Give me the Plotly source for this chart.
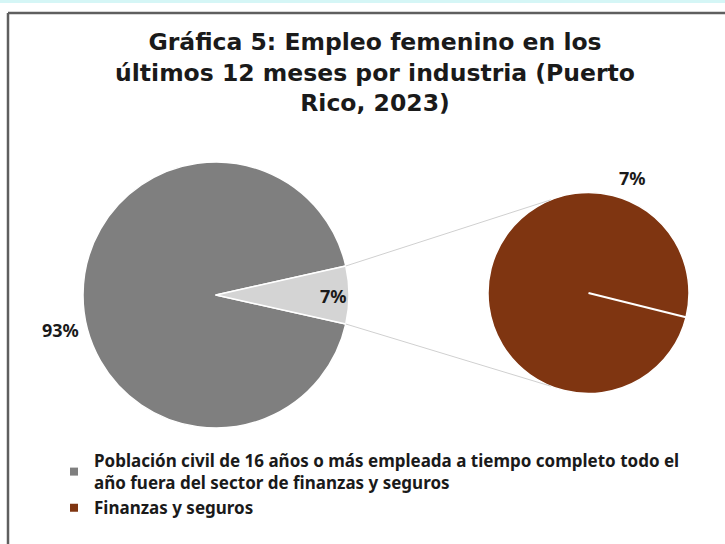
import math
import plotly.graph_objects as go

# ---- data ----
main_labels = ["Población civil de 16 años o más empleada a tiempo completo todo el año fuera del sector de finanzas y seguros",
               "Finanzas y seguros"]
main_values = [93, 7]
sub_labels = ["Finanzas y seguros"]
sub_values = [7]
legend_labels = ["Población civil de 16 años o más empleada a tiempo completo todo el<br>año fuera del sector de finanzas y seguros",
                 "Finanzas y seguros"]

W, H = 725, 544
GRAY, LIGHT, BROWN = "#7f7f7f", "#d4d4d4", "#7f3511"
FONT_LBL = "Noto Sans"

# geometry (pixels)
L_CX, L_CY, L_R = 216, 295, 133
R_CX, R_CY, R_R = 588.5, 293, 100.5

def px(x):
    return x / W
def py(y):
    return 1 - y / H

half = 360 * main_values[1] / sum(main_values) / 2  # half-angle of small slice

fig = go.Figure()
fig.add_trace(go.Pie(
    labels=main_labels, values=main_values, sort=False, direction="clockwise",
    rotation=90 + half, marker=dict(colors=[GRAY, LIGHT], line=dict(color="white", width=1.5)),
    textinfo="none", hoverinfo="label+percent", showlegend=False,
    domain=dict(x=[px(L_CX - L_R), px(L_CX + L_R)], y=[py(L_CY + L_R), py(L_CY - L_R)]),
))
sub_rot = 104
fig.add_trace(go.Pie(
    labels=sub_labels, values=sub_values, sort=False, direction="clockwise",
    rotation=sub_rot, marker=dict(colors=[BROWN], line=dict(color="white", width=1.5)),
    textinfo="none", hoverinfo="label", showlegend=False,
    domain=dict(x=[px(R_CX - R_R), px(R_CX + R_R)], y=[py(R_CY + R_R), py(R_CY - R_R)]),
))
# legend entries
for lab, col in zip(legend_labels, [GRAY, BROWN]):
    fig.add_trace(go.Scatter(x=[None], y=[None], mode="markers", name=lab,
                             marker=dict(symbol="square", size=8, color=col)))

shapes = []
# top cyan strip and frame
shapes.append(dict(type="rect", xref="paper", yref="paper", x0=0, x1=1, y0=py(3), y1=1,
                   fillcolor="#d5f6f6", line=dict(width=0), layer="below"))
shapes.append(dict(type="line", xref="paper", yref="paper", x0=px(8), x1=1, y0=py(13), y1=py(13),
                   line=dict(color="#5f5f5f", width=2.5)))
shapes.append(dict(type="line", xref="paper", yref="paper", x0=px(8), x1=px(8), y0=py(13), y1=0,
                   line=dict(color="#5f5f5f", width=2.5)))
# connector lines
a = math.radians(half)
b = math.radians(112)
for s in (1, -1):
    x0 = L_CX + L_R * math.cos(a)
    y0 = L_CY - s * L_R * math.sin(a)
    x1 = R_CX + R_R * math.cos(b)
    y1 = R_CY - s * R_R * math.sin(b)
    shapes.append(dict(type="line", xref="paper", yref="paper", x0=px(x0), y0=py(y0), x1=px(x1), y1=py(y1),
                       line=dict(color="#d0d0d0", width=1)))
# slice border in the sub pie (single-slice start edge)
ang = math.radians(90 - sub_rot)
shapes.append(dict(type="line", xref="paper", yref="paper", x0=px(R_CX), y0=py(R_CY),
                   x1=px(R_CX + R_R * math.cos(ang)), y1=py(R_CY - R_R * math.sin(ang)),
                   line=dict(color="white", width=2)))

lbl_font = dict(family=FONT_LBL, size=18, color="#1a1a1a", weight="bold")
annotations = [
    dict(text=f"{main_values[0]}%", x=px(L_CX - 156), y=py(L_CY + 35)),
    dict(text=f"{main_values[1]}%", x=px(L_CX + 117), y=py(L_CY + 1)),
    dict(text=f"{sub_values[0]}%", x=px(R_CX + 44), y=py(R_CY - 115)),
]
for an in annotations:
    an.update(xref="paper", yref="paper", xanchor="center", yanchor="middle",
              showarrow=False, font=lbl_font)

fig.update_layout(
    width=W, height=H, margin=dict(l=0, r=0, t=0, b=0),
    paper_bgcolor="white", plot_bgcolor="white",
    title=dict(text="Gráfica 5: Empleo femenino en los<br>últimos 12 meses por industria (Puerto<br>Rico, 2023)",
               x=px(375), xanchor="center", y=py(50), yanchor="top", yref="container",
               font=dict(family="DejaVu Sans", size=23.5, color="#1a1a1a", weight="bold")),
    xaxis=dict(visible=False), yaxis=dict(visible=False),
    showlegend=True,
    legend=dict(x=px(54), y=py(443), xanchor="left", yanchor="top", bgcolor="rgba(0,0,0,0)",
                font=dict(family=FONT_LBL, size=17, color="#1a1a1a", weight="bold"),
                itemwidth=30, tracegroupgap=2),
    shapes=shapes, annotations=annotations,
)
fig.write_html("out.html", config={"displayModeBar": False},
               post_script="document.body.style.margin='0px';")
